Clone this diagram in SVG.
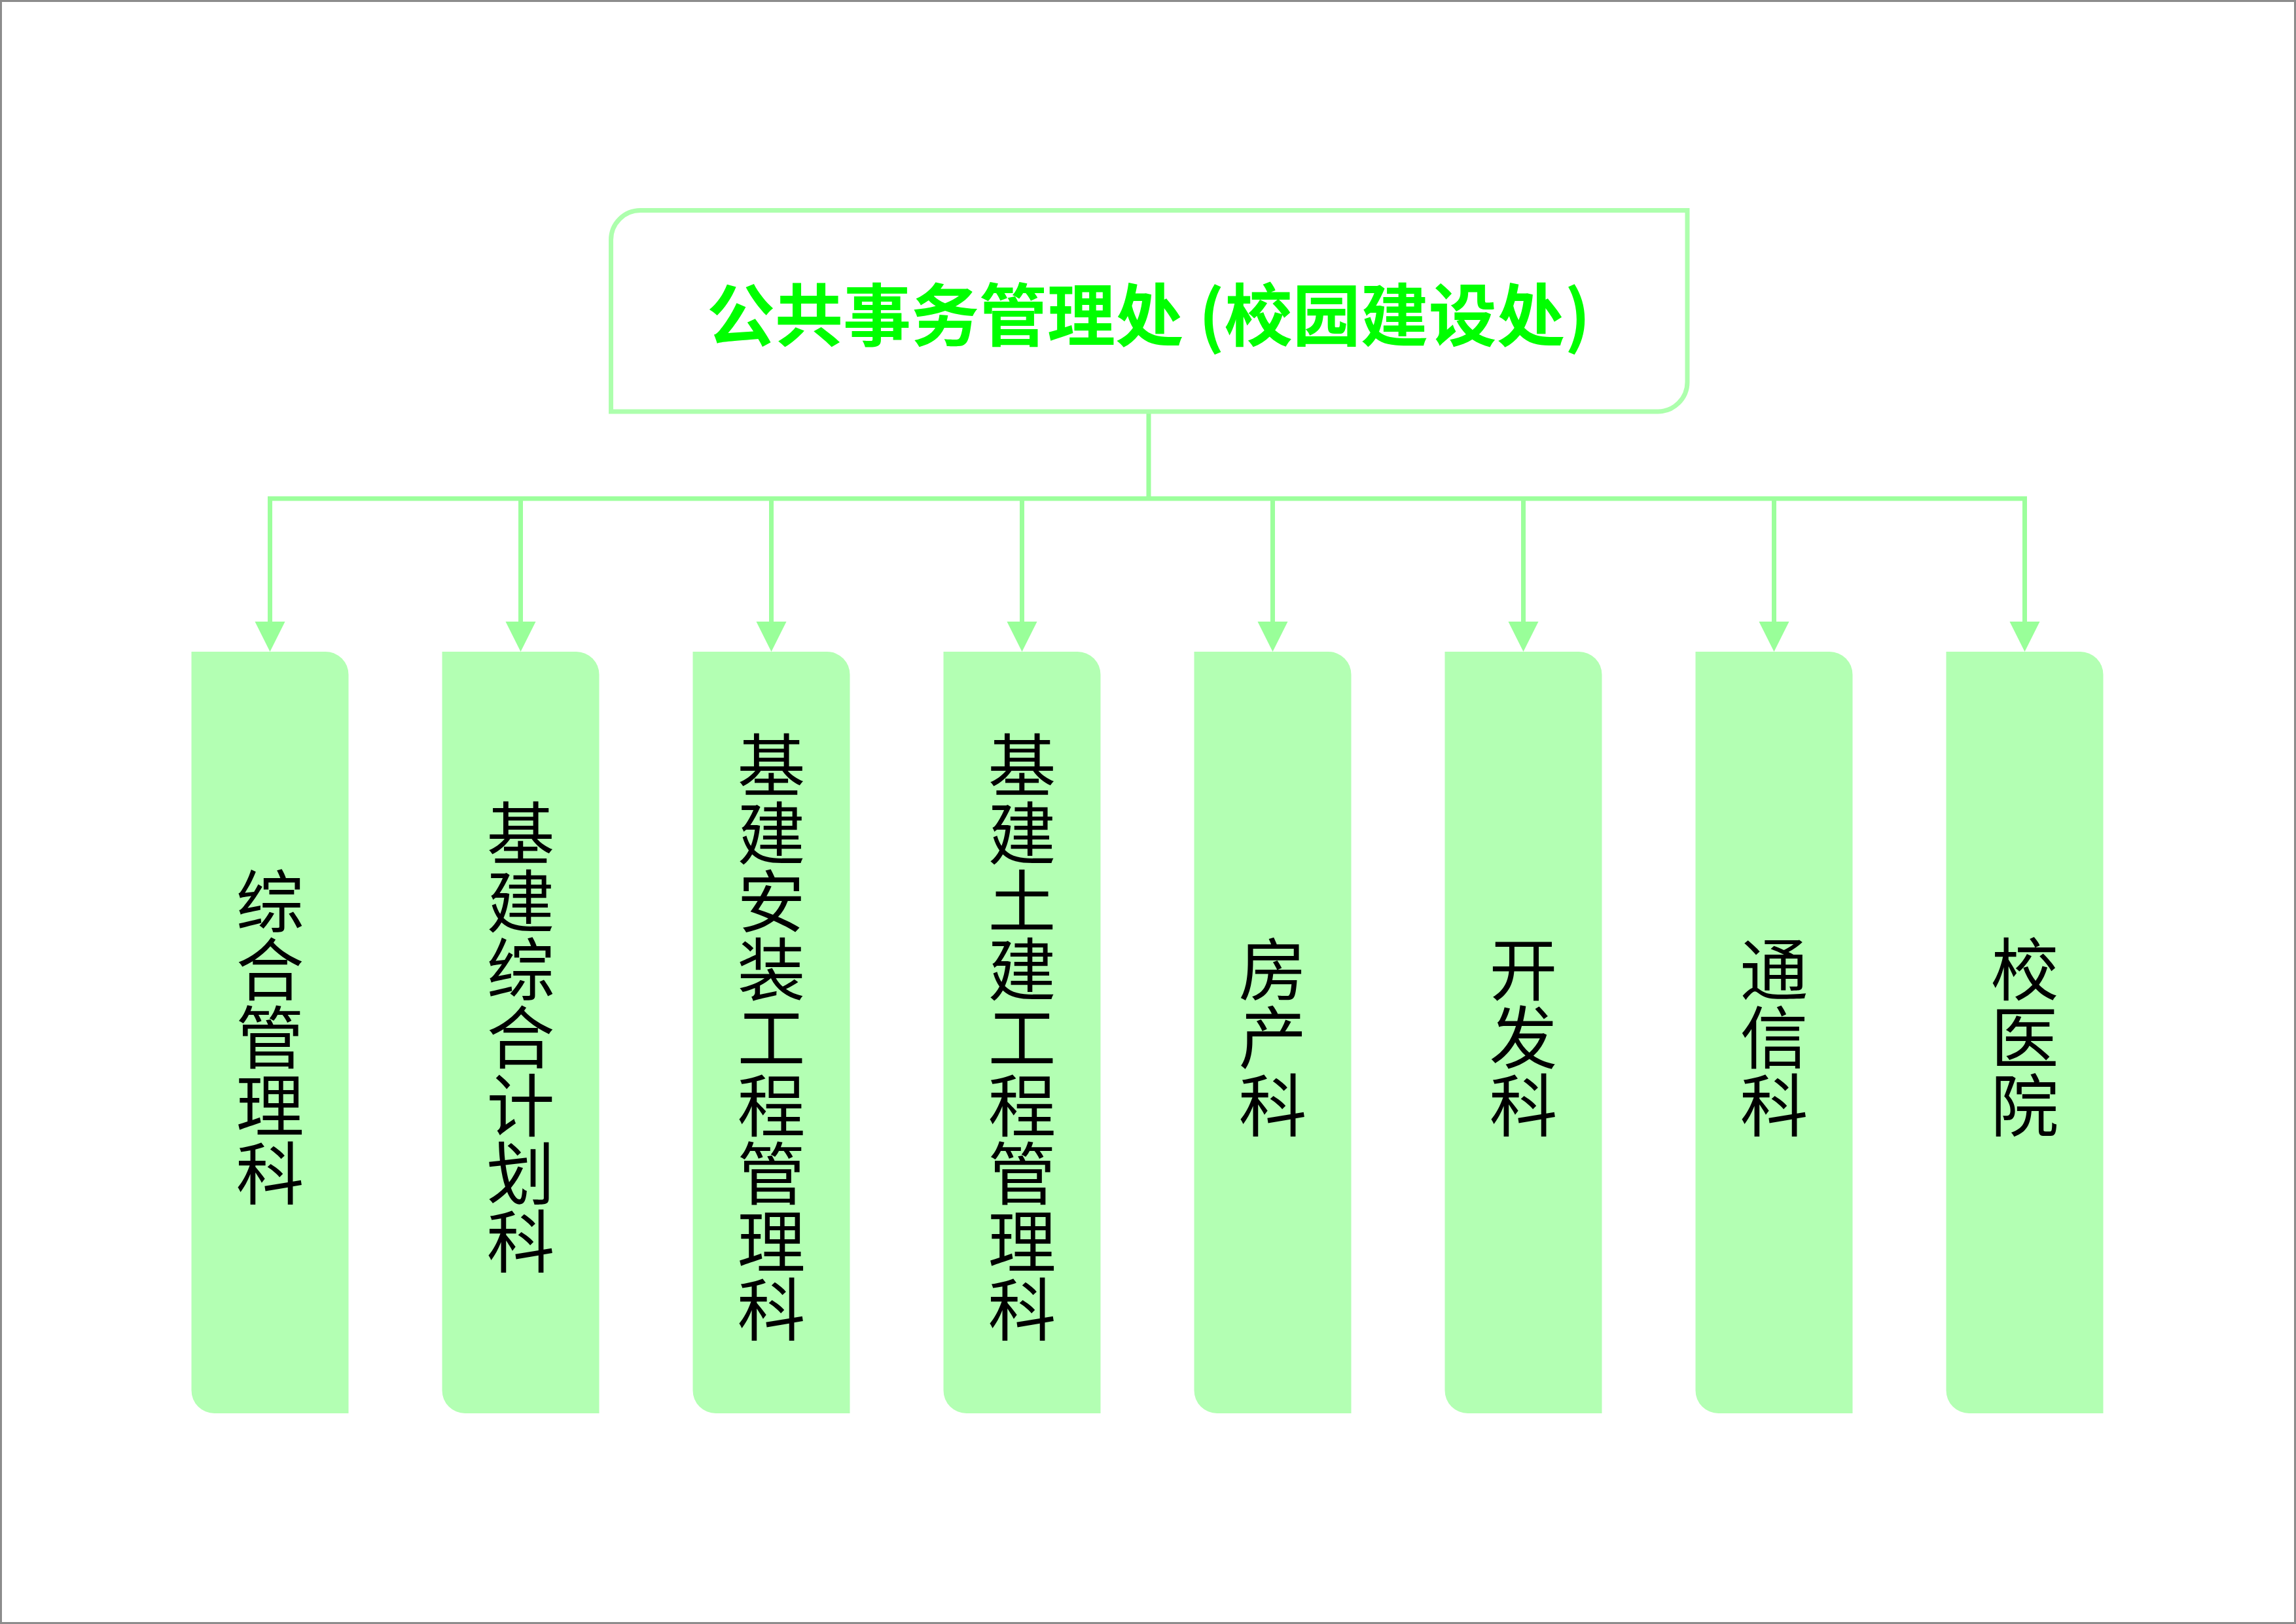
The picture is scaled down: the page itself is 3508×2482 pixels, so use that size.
<svg xmlns="http://www.w3.org/2000/svg" width="3508" height="2482" viewBox="0 0 3508 2482">
<defs>
<style>
.frame{fill:#ffffff;stroke:#8c8c8c;stroke-width:3}
.head{fill:#ffffff;stroke:#adffad;stroke-width:7}
.title{font-family:"Noto Sans CJK SC","Liberation Sans",sans-serif;font-weight:bold;font-size:104px;fill:#00ff00;text-anchor:middle;dominant-baseline:central}
.box{fill:#b3ffb3;stroke:none}
.lbl{font-family:"Noto Sans CJK SC","Liberation Sans",sans-serif;font-size:104px;fill:#000000;text-anchor:middle;dominant-baseline:central}
.conn{fill:none;stroke:#9cff9c;stroke-width:7;stroke-linejoin:miter}
.tip{fill:#99ff99}
</style>
</defs>
<rect class="frame" x="1.5" y="1.5" width="3505" height="2479"/>
<g id="connectors">
<path class="conn" d="M1755,629 V762"/>
<path class="conn" d="M412.5,950 V762 H3093.5 V950"/>
<path d="M795.5,762 V950" class="conn"/>
<path d="M1178.5,762 V950" class="conn"/>
<path d="M1561.5,762 V950" class="conn"/>
<path d="M1944.5,762 V950" class="conn"/>
<path d="M2327.5,762 V950" class="conn"/>
<path d="M2710.5,762 V950" class="conn"/>
<path class="tip" d="M389.5,950 H435.5 L412.5,996 Z"/>
<path class="tip" d="M772.5,950 H818.5 L795.5,996 Z"/>
<path class="tip" d="M1155.5,950 H1201.5 L1178.5,996 Z"/>
<path class="tip" d="M1538.5,950 H1584.5 L1561.5,996 Z"/>
<path class="tip" d="M1921.5,950 H1967.5 L1944.5,996 Z"/>
<path class="tip" d="M2304.5,950 H2350.5 L2327.5,996 Z"/>
<path class="tip" d="M2687.5,950 H2733.5 L2710.5,996 Z"/>
<path class="tip" d="M3070.5,950 H3116.5 L3093.5,996 Z"/>
</g>
<g id="head">
<path class="head" d="M933.5,366.5 A45,45 0 0 1 978.5,321.5 L2578,321.5 L2578,584 A45,45 0 0 1 2533,629 L933.5,629 Z"/>
<text class="title" x="1755" y="475">公共事务管理处 (校园建设处)</text>
</g>
<g id="n1">
<path class="box" d="M292.5,996 H497.5 A35,35 0 0 1 532.5,1031 V2160 H327.5 A35,35 0 0 1 292.5,2125 Z"/>
<text class="lbl"><tspan x="412.5" y="1371">综</tspan><tspan x="412.5" y="1475">合</tspan><tspan x="412.5" y="1579">管</tspan><tspan x="412.5" y="1683">理</tspan><tspan x="412.5" y="1787">科</tspan></text>
</g>
<g id="n2">
<path class="box" d="M675.5,996 H880.5 A35,35 0 0 1 915.5,1031 V2160 H710.5 A35,35 0 0 1 675.5,2125 Z"/>
<text class="lbl"><tspan x="795.5" y="1267">基</tspan><tspan x="795.5" y="1371">建</tspan><tspan x="795.5" y="1475">综</tspan><tspan x="795.5" y="1579">合</tspan><tspan x="795.5" y="1683">计</tspan><tspan x="795.5" y="1787">划</tspan><tspan x="795.5" y="1891">科</tspan></text>
</g>
<g id="n3">
<path class="box" d="M1058.5,996 H1263.5 A35,35 0 0 1 1298.5,1031 V2160 H1093.5 A35,35 0 0 1 1058.5,2125 Z"/>
<text class="lbl"><tspan x="1178.5" y="1163">基</tspan><tspan x="1178.5" y="1267">建</tspan><tspan x="1178.5" y="1371">安</tspan><tspan x="1178.5" y="1475">装</tspan><tspan x="1178.5" y="1579">工</tspan><tspan x="1178.5" y="1683">程</tspan><tspan x="1178.5" y="1787">管</tspan><tspan x="1178.5" y="1891">理</tspan><tspan x="1178.5" y="1995">科</tspan></text>
</g>
<g id="n4">
<path class="box" d="M1441.5,996 H1646.5 A35,35 0 0 1 1681.5,1031 V2160 H1476.5 A35,35 0 0 1 1441.5,2125 Z"/>
<text class="lbl"><tspan x="1561.5" y="1163">基</tspan><tspan x="1561.5" y="1267">建</tspan><tspan x="1561.5" y="1371">土</tspan><tspan x="1561.5" y="1475">建</tspan><tspan x="1561.5" y="1579">工</tspan><tspan x="1561.5" y="1683">程</tspan><tspan x="1561.5" y="1787">管</tspan><tspan x="1561.5" y="1891">理</tspan><tspan x="1561.5" y="1995">科</tspan></text>
</g>
<g id="n5">
<path class="box" d="M1824.5,996 H2029.5 A35,35 0 0 1 2064.5,1031 V2160 H1859.5 A35,35 0 0 1 1824.5,2125 Z"/>
<text class="lbl"><tspan x="1944.5" y="1475">房</tspan><tspan x="1944.5" y="1579">产</tspan><tspan x="1944.5" y="1683">科</tspan></text>
</g>
<g id="n6">
<path class="box" d="M2207.5,996 H2412.5 A35,35 0 0 1 2447.5,1031 V2160 H2242.5 A35,35 0 0 1 2207.5,2125 Z"/>
<text class="lbl"><tspan x="2327.5" y="1475">开</tspan><tspan x="2327.5" y="1579">发</tspan><tspan x="2327.5" y="1683">科</tspan></text>
</g>
<g id="n7">
<path class="box" d="M2590.5,996 H2795.5 A35,35 0 0 1 2830.5,1031 V2160 H2625.5 A35,35 0 0 1 2590.5,2125 Z"/>
<text class="lbl"><tspan x="2710.5" y="1475">通</tspan><tspan x="2710.5" y="1579">信</tspan><tspan x="2710.5" y="1683">科</tspan></text>
</g>
<g id="n8">
<path class="box" d="M2973.5,996 H3178.5 A35,35 0 0 1 3213.5,1031 V2160 H3008.5 A35,35 0 0 1 2973.5,2125 Z"/>
<text class="lbl"><tspan x="3093.5" y="1475">校</tspan><tspan x="3093.5" y="1579">医</tspan><tspan x="3093.5" y="1683">院</tspan></text>
</g>
</svg>
